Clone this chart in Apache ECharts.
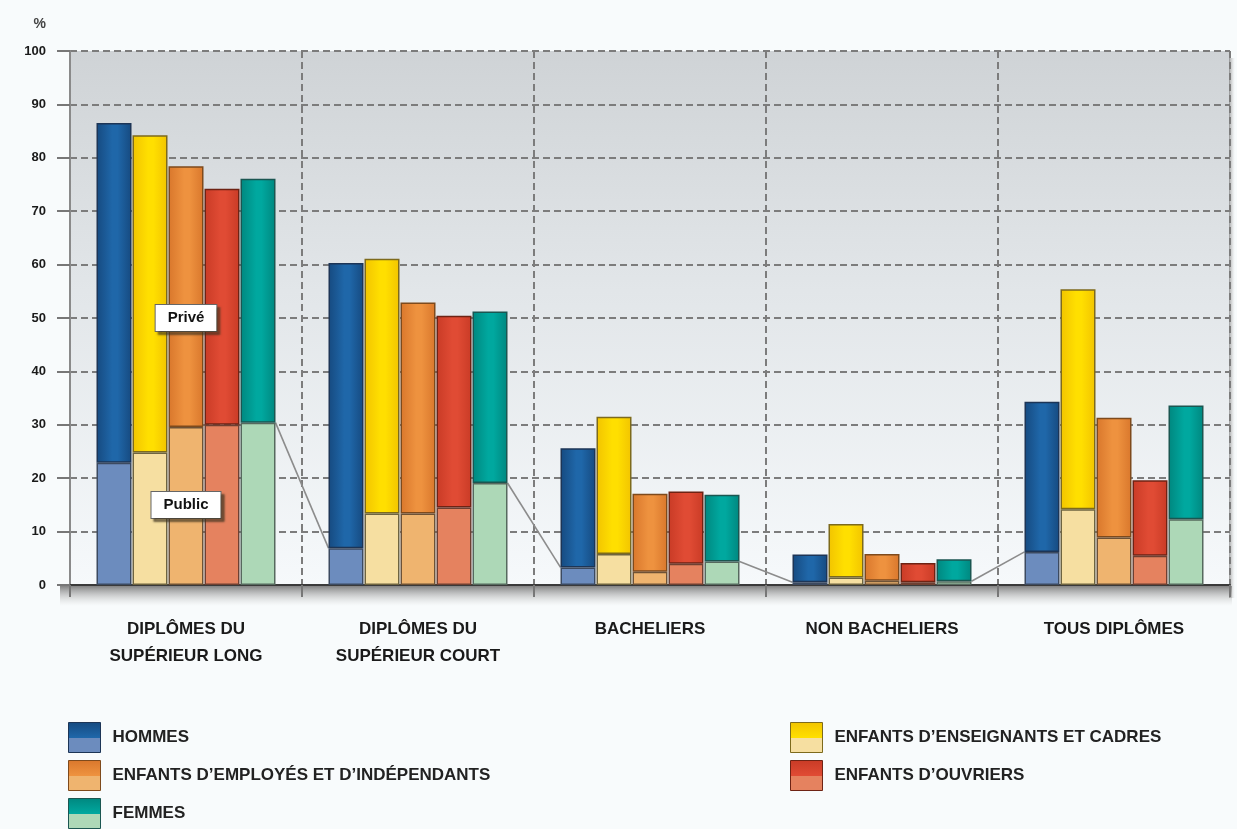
<!DOCTYPE html>
<html>
<head>
<meta charset="utf-8">
<script src="https://cdn.jsdelivr.net/npm/echarts@6/dist/echarts.min.js"></script>
<style>
html,body{margin:0;padding:0;background:#f8fbfc;}
#main{width:1237px;height:829px;}
</style>
</head>
<body>
<div id="main"></div>
<script>
// ---- data ----
const categories = ['DIPLÔMES DU\nSUPÉRIEUR LONG', 'DIPLÔMES DU\nSUPÉRIEUR COURT', 'BACHELIERS', 'NON BACHELIERS', 'TOUS DIPLÔMES'];
const groupNames = ['HOMMES', 'ENFANTS D’ENSEIGNANTS ET CADRES', 'ENFANTS D’EMPLOYÉS ET D’INDÉPENDANTS', 'ENFANTS D’OUVRIERS', 'FEMMES'];
const yTicks = [0, 10, 20, 30, 40, 50, 60, 70, 80, 90, 100];

// public share (light part) and total (public + privé) in %
const hommesPublic   = [22.9, 6.9, 3.3, 0.5, 6.2];
const hommesTotal    = [86.5, 60.3, 25.6, 5.7, 34.3];
const cadresPublic   = [24.8, 13.4, 5.8, 1.4, 14.2];
const cadresTotal    = [84.2, 61.1, 31.5, 11.4, 55.4];
const employesPublic = [29.6, 13.4, 2.5, 0.8, 8.9];
const employesTotal  = [78.4, 52.9, 17.1, 5.8, 31.3];
const ouvriersPublic = [30.0, 14.5, 4.0, 0.5, 5.5];
const ouvriersTotal  = [74.2, 50.4, 17.5, 4.1, 19.6];
const femmesPublic   = [30.4, 19.1, 4.4, 0.7, 12.3];
const femmesTotal    = [76.1, 51.2, 16.9, 4.8, 33.6];

const annotationLabels = ['Privé', 'Public'];
const annotationValues = [50, 15];

// ---- styles ----
const FONT = '"Liberation Sans", Arial, sans-serif';
const BAR_W = 35;
const BAR_GAP_PX = 1;
const styles = [
  {dark:'#1f67a9', darkEdge:'#164a80', light:'#6c8cbe', border:'#1d3556', lborder:'#3c4a60'},
  {dark:'#ffdf00', darkEdge:'#f2c400', light:'#f6dfa1', border:'#7d6a1c', lborder:'#6e6440'},
  {dark:'#ee923f', darkEdge:'#d9772c', light:'#efb46f', border:'#7e4a1c', lborder:'#6e5236'},
  {dark:'#e04b34', darkEdge:'#c93b26', light:'#e5825f', border:'#6e2314', lborder:'#6e4032'},
  {dark:'#00a89f', darkEdge:'#00877f', light:'#add8b7', border:'#1b5651', lborder:'#56695e'}
];
const publics = [hommesPublic, cadresPublic, employesPublic, ouvriersPublic, femmesPublic];
const totals = [hommesTotal, cadresTotal, employesTotal, ouvriersTotal, femmesTotal];

function cyl(edge, mid) {
  return new echarts.graphic.LinearGradient(0, 0, 1, 0, [
    {offset: 0, color: edge}, {offset: 0.45, color: mid}, {offset: 0.6, color: mid}, {offset: 1, color: edge}
  ]);
}
function legendIcon(s) {
  return new echarts.graphic.LinearGradient(0, 0, 0, 1, [
    {offset: 0, color: s.darkEdge}, {offset: 0.5, color: s.dark}, {offset: 0.5, color: s.light}, {offset: 1, color: s.light}
  ]);
}

const series = [];
groupNames.forEach((name, g) => {
  const s = styles[g];
  const pub = publics[g];
  const prive = totals[g].map((t, i) => +(t - pub[i]).toFixed(1));
  series.push({
    name: name, type: 'bar', stack: 'g' + g, barWidth: BAR_W, barGap: (BAR_GAP_PX / BAR_W * 100) + '%',
    data: pub, z: 3,
    itemStyle: {color: s.light, borderColor: s.lborder, borderWidth: 1.5}
  });
  series.push({
    name: name, type: 'bar', stack: 'g' + g, barWidth: BAR_W,
    data: prive, z: 3,
    itemStyle: {color: cyl(s.darkEdge, s.dark), borderColor: s.border, borderWidth: 1.5}
  });
});

// connector line between groups: last bar public (femmes) -> next group's first bar public (hommes)
const connData = [];
for (let i = 0; i < categories.length - 1; i++) connData.push([i, femmesPublic[i], hommesPublic[i + 1]]);
series.push({
  type: 'custom', name: 'conn', z: 2, silent: true,
  data: connData,
  renderItem: function (params, api) {
    const i = api.value(0);
    const half = (5 * BAR_W + 4 * BAR_GAP_PX) / 2;
    const p1 = api.coord([i, api.value(1)]);
    const p2 = api.coord([i + 1, api.value(2)]);
    return {
      type: 'line',
      shape: {x1: p1[0] + half, y1: p1[1], x2: p2[0] - half, y2: p2[1]},
      style: {stroke: '#8c8c8c', lineWidth: 1.6}
    };
  },
  markPoint: {
    symbol: 'rect', symbolSize: [1, 1], silent: true,
    itemStyle: {color: 'rgba(0,0,0,0)'},
    label: {
      show: true, position: 'inside', formatter: '{b}',
      fontFamily: FONT, fontWeight: 'bold', fontSize: 15, color: '#111',
      backgroundColor: '#fff', borderColor: '#666', borderWidth: 1,
      padding: [6, 12, 5, 12],
      shadowColor: 'rgba(60,50,30,0.6)', shadowOffsetX: 3, shadowOffsetY: 3, shadowBlur: 2
    },
    data: annotationLabels.map((t, k) => ({name: t, coord: [0, annotationValues[k]]}))
  }
});

// legend: one component per item to reproduce the two-column arrangement
const legendPos = [
  {g: 0, left: 68, top: 722},
  {g: 2, left: 68, top: 760},
  {g: 4, left: 68, top: 798},
  {g: 1, left: 790, top: 722},
  {g: 3, left: 790, top: 760}
];
const legends = legendPos.map(p => ({
  left: p.left, top: p.top, padding: 0, itemWidth: 32, itemHeight: 30,
  selectedMode: false,
  textStyle: {fontFamily: FONT, fontWeight: 'bold', fontSize: 17, color: '#222', padding: [0, 0, 0, 7]},
  data: [{name: groupNames[p.g], icon: 'rect',
          itemStyle: {color: legendIcon(styles[p.g]), borderColor: styles[p.g].border, borderWidth: 1}}]
}));

const chart = echarts.init(document.getElementById('main'), null, {renderer: 'canvas'});
chart.setOption({
  backgroundColor: '#f8fbfc',
  animation: false,
  grid: {
    left: 70, right: 7, top: 51, bottom: 244, show: true, borderWidth: 0,
    backgroundColor: new echarts.graphic.LinearGradient(0, 0, 0, 1, [
      {offset: 0, color: '#cfd3d6'}, {offset: 0.45, color: '#e2e6e9'}, {offset: 1, color: '#f6f9fb'}
    ])
  },
  graphic: [
    {type: 'rect', left: 60, top: 586, shape: {width: 1172, height: 20}, z: 0,
     style: {fill: new echarts.graphic.LinearGradient(0, 0, 0, 1, [
       {offset: 0, color: 'rgba(110,110,110,0.85)'}, {offset: 1, color: 'rgba(200,200,200,0)'}])}},
    {type: 'rect', left: 1229, top: 58, shape: {width: 6, height: 540}, z: 0,
     style: {fill: new echarts.graphic.LinearGradient(0, 0, 1, 0, [
       {offset: 0, color: 'rgba(120,120,120,0.7)'}, {offset: 1, color: 'rgba(200,200,200,0)'}])}}
  ],
  legend: legends,
  xAxis: {
    type: 'category', data: categories,
    axisLine: {show: true, lineStyle: {color: '#3a3a3a', width: 2}},
    axisTick: {show: true, length: 12, lineStyle: {color: '#777', width: 2}},
    splitLine: {show: true, lineStyle: {color: '#7c7c7c', width: 2, type: [7, 4]}},
    axisLabel: {
      margin: 31, fontFamily: FONT, fontWeight: 'bold', fontSize: 17, color: '#1a1a1a', lineHeight: 27, interval: 0
    }
  },
  yAxis: {
    type: 'value', min: 0, max: 100, interval: 10,
    name: '%', nameLocation: 'end', nameGap: 20,
    nameTextStyle: {fontFamily: FONT, fontWeight: 'bold', fontSize: 14, color: '#444', align: 'right', padding: [0, 24, 0, 0]},
    axisLine: {show: true, lineStyle: {color: '#8a8a8a', width: 2}},
    axisTick: {show: true, length: 13, lineStyle: {color: '#777', width: 2}},
    splitLine: {show: true, lineStyle: {color: '#7c7c7c', width: 2, type: [7, 4]}},
    axisLabel: {
      margin: 24, fontFamily: FONT, fontWeight: 'bold', fontSize: 13, color: '#1a1a1a',
      formatter: v => (yTicks.indexOf(v) >= 0 ? String(v) : '')
    }
  },
  series: series
});
</script>
</body>
</html>
